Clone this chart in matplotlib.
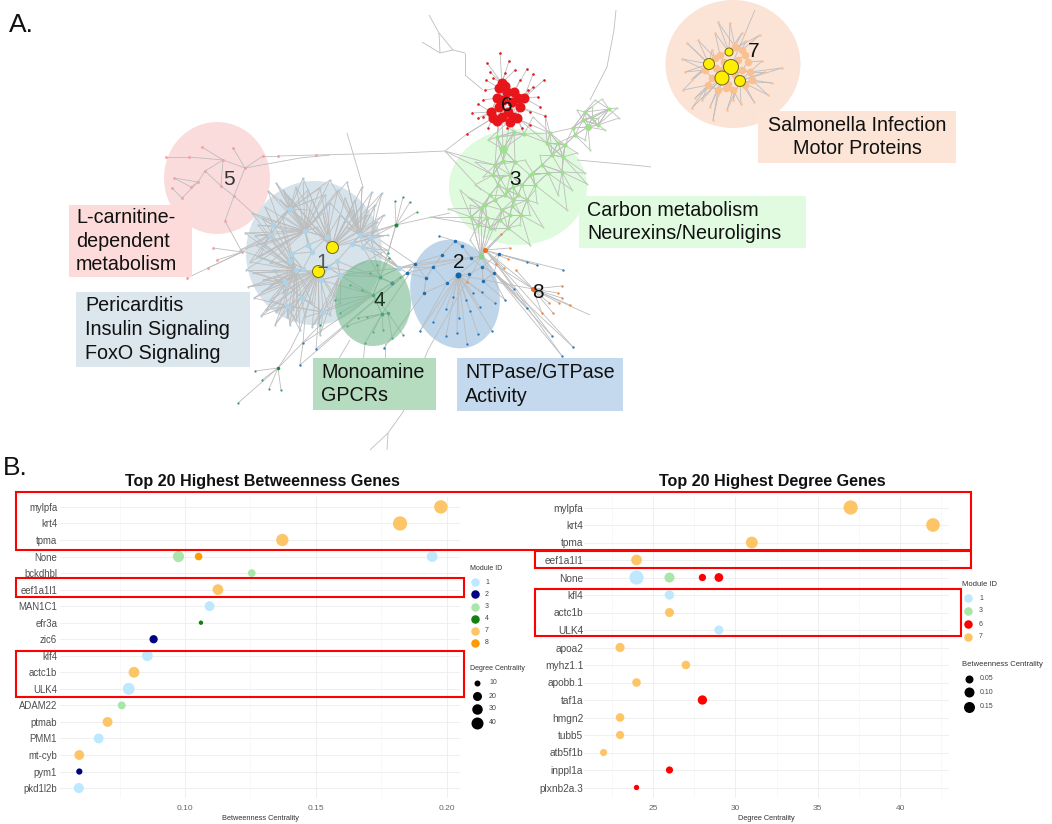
import numpy as np
import matplotlib
matplotlib.use("Agg")
import matplotlib.pyplot as plt
from matplotlib.patches import Ellipse, Rectangle
from matplotlib.collections import LineCollection

plt.rcParams['font.family'] = ['Liberation Sans', 'DejaVu Sans']

# ---- Panel B data ----
BET_GENE_ORDER = ["mylpfa", "krt4", "tpma", "None", "bckdhbl", "eef1a1l1", "MAN1C1", "efr3a", "zic6", "klf4",
                  "actc1b", "ULK4", "ADAM22", "ptmab", "PMM1", "mt-cyb", "pym1", "pkd1l2b"]
BET_GENES = ["mylpfa", "krt4", "tpma", "None", "None", "None", "bckdhbl", "eef1a1l1", "MAN1C1", "efr3a", "zic6",
             "klf4", "actc1b", "ULK4", "ADAM22", "ptmab", "PMM1", "mt-cyb", "pym1", "pkd1l2b"]
BET_VALUES = [.1978, .1822, .1372, .0975, .1052, .1945, .1255, .1126, .1094, .1061, .0880,
              .0856, .0805, .0785, .0758, .0704, .0670, .0596, .0596, .0594]
BET_MODULES = [7, 7, 7, 3, 8, 1, 3, 7, 1, 4, 2, 1, 7, 1, 3, 7, 1, 7, 2, 1]
BET_DEGREES = [37, 42, 31, 26, 12, 24, 12, 24, 20, 4, 14, 24, 24, 29, 13, 20, 20, 20, 8, 21]

DEG_GENE_ORDER = ["mylpfa", "krt4", "tpma", "eef1a1l1", "None", "kfl4", "actc1b", "ULK4", "apoa2", "myhz1.1",
                  "apobb.1", "taf1a", "hmgn2", "tubb5", "atb5f1b", "inppl1a", "plxnb2a.3"]
DEG_GENES = ["mylpfa", "krt4", "tpma", "eef1a1l1", "None", "None", "None", "None", "kfl4", "actc1b", "ULK4", "apoa2",
             "myhz1.1", "apobb.1", "taf1a", "hmgn2", "tubb5", "atb5f1b", "inppl1a", "plxnb2a.3"]
DEG_VALUES = [37, 42, 31, 24, 24, 26, 28, 29, 26, 26, 29, 23, 27, 24, 28, 23, 23, 22, 26, 24]
DEG_MODULES = [7, 7, 7, 7, 1, 3, 6, 6, 1, 7, 1, 7, 7, 7, 6, 7, 7, 7, 6, 6]
DEG_BETWEEN = [.198, .182, .137, .113, .195, .098, .052, .075, .086, .080, .079, .082, .072, .072, .085, .072, .066,
               .050, .050, .028]

MODULE_COLORS = {1: "#bde8fd", 2: "#000080", 3: "#a9e6a9", 4: "#118011", 6: "#ff0000", 7: "#fdc566", 8: "#ff9c00"}
BET_LEGEND_MODULES = [1, 2, 3, 4, 7, 8]
DEG_LEGEND_MODULES = [1, 3, 6, 7]
BET_SIZE_LEGEND = [10, 20, 30, 40]
DEG_SIZE_LEGEND = [0.05, 0.10, 0.15]

# ---- Panel A network data: node positions ----
M6_HUBS = [(502,83),(499,88),(507,92),(497,98),(503,100),(518,98),(512,102),(499,107),(520,107),(508,112),
           (493,118),(502,117),(513,117),(497,121),(517,118),(505,86),(514,92),(524,98),(491,112),(510,122)]
M6_LEAVES = [(500,53),(487,63),(509,61),(515,70),(527,69),(533,74),(544,80),(485,90),(478,104),(472,113),(483,117),
             (467,134),(545,116),(530,125),(522,128),(538,97),(533,87),(493,78),(490,72),(540,107),(483,100),
             (505,73),(520,80),(528,90),(486,80),(530,112),(478,118),(488,128),(507,128)]
M7_HUBS = [(745,55),(748,62),(745,85),(726,88),(733,90),(715,58),(720,55),(712,78),(708,85),(750,72),(735,47),
           (742,50),(705,70),(731,67),(722,78),(740,81),(709,64),(729,52),(738,60),(724,62),(722,70),(735,75),
           (742,70),(716,68),(728,84),(718,90),(752,80)]
M7_LEAVES = [(698,40),(687,43),(682,59),(685,72),(692,79),(683,90),(695,98),(692,108),(702,100),(710,107),(713,120),
             (718,95),(727,110),(733,100),(741,104),(754,102),(768,95),(772,83),(782,68),(765,72),(762,61),(760,35),
             (746,41),(742,33),(730,23),(718,22),(715,33),(712,50)]
M7_YELLOW = [(731,67),(722,78),(740,81),(709,64),(729,52)]
M7_YELLOW_D = [15,14,11,11,8]
M3_HUBS = [(503,149),(503,161),(515,162),(588,127),(583,120),(558,143),(547,143),(550,133),(514,132),(524,134),
           (497,137),(533,173),(548,173),(562,172),(493,175),(498,185),(507,190),(513,187),(522,185),(490,195),
           (513,200),(512,206),(481,208),(502,210),(471,217),(487,218),(521,215),(508,228),(481,256),(609,109),
           (573,128),(585,112),(563,157),(495,200),(505,195),(518,195),(500,178),(527,200),(535,185),(542,165),
           (552,155),(565,145),(575,135),(592,118),(598,125),(478,225),(490,228),(500,220),(510,215),(530,175),
           (510,175),(485,205),(495,165)]
M3_LEAVES = [(602,99),(617,108),(619,118),(605,130),(598,118),(585,140),(590,150),(577,153),(585,173),(587,184),
             (567,210),(572,190),(558,195),(543,227),(530,245),(537,203),(530,215),(460,190),(468,197),(448,209),
             (430,217),(475,162),(483,177),(488,140),(445,151),(533,117),(545,115),(577,110),(592,107),(595,100),
             (500,120),(470,240),(525,160),(540,155),(475,185),(495,230),(470,205),(535,190),(505,175),(520,225)]
M1_HUBS = [(305,231),(308,245),(291,254),(290,261),(296,270),(303,269),(285,282),(302,298),(321,280),(328,267),
           (337,261),(340,275),(352,244),(363,247),(373,249),(360,235),(371,238),(327,237),(312,252),(399,268),
           (380,277),(273,225),(290,209),(270,235),(287,306),(323,312)]
M1_CORE = [(332,247),(318,271),(305,231),(340,275),(360,235),(296,270)]
M1_LEAVES = [(276,183),(268,191),(296,187),(303,178),(320,188),(338,190),(347,182),(362,187),(372,192),(382,193),
             (367,215),(377,222),(388,235),(252,213),(245,233),(256,245),(257,257),(246,270),(248,287),(254,298),
             (270,300),(261,316),(275,325),(287,317),(305,317),(318,323),(340,303),(265,207),(280,200),(312,200),
             (330,203),(352,210),(273,270),(263,280),(283,293),(307,287),(260,257),(323,213),(300,217),(283,230),
             (277,247),(270,263),(317,227),(347,227),(387,250),(333,297),(293,310),(312,303),(253,273),(258,225),
             (283,190),(330,180),(355,200),(240,250),(266,310),(300,330),(320,335),(290,325),(288,196),(308,190),
             (325,195),(345,198),(362,205),(375,205),(262,218),(255,236),(250,262),(262,292),(276,312),(296,320),
             (312,327),(282,215),(340,215),(395,225),(384,215),(264,245),(270,285),(330,315),(346,220),(310,210)]
M2_MAIN = [(458,275)]
M2_HUBS = [(458,275),(455,241),(462,246),(471,258),(499,254),(442,255),(433,267),(415,264),(447,283),(424,293),
           (426,278),(469,274),(483,281),(494,273),(482,267),(407,273)]
M2_FAN = [(446,309),(459,318),(453,297),(466,300),(473,293),(482,292),(495,303),(480,307),(470,311),(446,336),
          (457,333),(467,344),(478,334),(492,331),(433,322),(420,331)]
M2_LEAVES = [(505,300),(527,262),(537,265),(563,270),(527,308),(552,336),(573,347),(562,356),(514,289),(384,348),
             (439,236),(303,343),(316,349),(300,365)]
M4_HUBS = [(373,295),(388,313),(382,314),(392,283),(380,277)]
M4_LEAVES = [(347,326),(365,343),(373,332),(383,330),(392,338),(358,318),(403,335),(367,317),(350,285),(362,290),
             (370,273),(377,265),(389,258),(400,277),(340,313),(335,300)]
M4_STAR_A_HUB = [(396,225)]
M4_STAR_A = [(395,201),(403,197),(410,202),(417,212),(388,253)]
M4_STAR_B_HUB = [(278,368)]
M4_STAR_B = [(255,371),(262,380),(238,403),(269,389),(281,390),(320,325)]
M8_HUBS = [(485,250),(533,289)]
M8_LEAVES = [(562,286),(558,293),(562,298),(549,303),(559,303),(570,305),(553,313),(542,313),(516,270),(508,259),
             (504,268),(496,264),(501,234),(510,248),(467,282)]
M5_NODES = [(223,160),(245,168),(205,171),(221,186),(234,196),(198,182),(189,157),(166,157),(202,147),(233,148),
            (174,178),(172,188),(182,198),(191,187),(263,156),(278,156),(316,155),(225,221),(242,252),(213,248),
            (217,260),(208,268),(187,278)]
# Free-standing chains of edges
CHAINS = [
    [(166,157),(189,157),(223,160),(245,168),(263,156),(278,156),(316,155),(400,153),(445,151)],
    [(245,168),(300,158),(330,155)],
    [(202,147),(223,160),(205,171),(198,182),(174,178)],
    [(172,188),(182,198),(198,182)], [(191,187),(174,178)], [(198,182),(191,187)],
    [(223,160),(221,186),(234,196),(245,168)], [(233,148),(245,168)], [(221,186),(205,171)],
    [(234,196),(225,221),(242,252),(213,248)], [(242,252),(217,260)], [(242,252),(187,278)], [(242,252),(208,268)],
    [(242,252),(268,235)], [(234,196),(255,215)],
    [(429,15),(439,33),(440,53),(453,50),(465,53),(465,75),(483,90)], [(422,42),(440,53)], [(439,33),(453,50)],
    [(616,10),(614,30),(607,67),(590,100)],
    [(577,160),(610,163),(643,166),(651,167)],
    [(396,225),(450,213)], [(396,225),(388,253),(380,277)],
    [(470,275),(428,350),(403,412),(388,433),(370,450)], [(388,433),(387,450)],
    [(347,133),(363,187)], [(731,67),(755,10)],
    [(497,121),(497,137)], [(508,112),(514,132)], [(517,118),(524,134)], [(502,117),(503,149)], [(513,117),(550,133)],
    [(493,118),(467,134),(445,151)], [(510,122),(503,161)], [(505,125),(488,140)], [(520,120),(547,143)],
    [(481,208),(481,256)], [(471,217),(481,256)], [(487,218),(481,256)], [(508,228),(481,256)], [(502,210),(481,256)],
    [(481,256),(415,264)], [(481,256),(407,273)], [(399,268),(433,267)], [(399,268),(442,255)], [(399,268),(471,258)],
    [(485,250),(533,289)], [(481,256),(533,289)], [(533,289),(590,315)], [(458,275),(533,289)],
    [(490,255),(562,356)], [(490,255),(573,347)], [(490,255),(552,336)], [(481,256),(527,308)], [(485,250),(537,265)],
    [(445,151),(481,190)], [(399,268),(363,247)], [(399,268),(373,249)], [(380,277),(340,275)], [(380,277),(328,267)],
    [(399,268),(340,275)], [(392,283),(337,261)], [(373,295),(321,280)], [(373,295),(340,275)], [(373,295),(323,312)],
    [(382,314),(412,270)], [(399,268),(371,238)], [(407,273),(373,249)], [(415,264),(380,240)], [(399,268),(415,264)],
    [(458,275),(481,256)], [(447,283),(420,331)], [(481,256),(505,300)], [(494,273),(514,289)],
    [(365,343),(362,375)], [(385,343),(385,375)], [(350,340),(335,365)], [(318,323),(316,349)], [(305,317),(303,343)],
    [(303,343),(300,365)], [(300,330),(290,350),(278,368)],
]
ELLIPSES = [  # module, centre x, centre y, width, height, angle, colour, opacity
    (7, 733, 64, 135, 128, 0, "#fbe3d6", 1.0),
    (5, 217, 178, 106, 112, 0, "#fbdcdc", 1.0),
    (1, 314, 253, 136, 144, 0, "#d6e3eb", 1.0),
    (3, 518, 187, 138, 116, 0, "#dffbdd", 1.0),
    (2, 455, 294, 88, 110, -15, "#bed5ea", 1.0),
]
M4_ELLIPSE = (373, 303, 76, 86, "#72b88a", 0.58)
NUMBER_LABELS = [("1",322,262,"#555555"),("2",459,263,"#111111"),("3",515,179,"#111111"),("4",379,300,"#1a3a24"),
                 ("5",229,179,"#333333"),("6",507,105,"#111111"),("7",754,51,"#111111"),("8",538,292,"#111111")]
TEXT_BOXES = [
    (69,205,123,72,"#fddbdb","L-carnitine-\ndependent\nmetabolism",76),
    (76,292,174,75,"#dbe6ed","Pericarditis\nInsulin Signaling\nFoxO Signaling",85),
    (313,358,123,52,"#b6dcbf","Monoamine\nGPCRs",321),
    (457,358,166,53,"#c4d9ed","NTPase/GTPase\nActivity",465),
    (579,196,227,52,"#e0fbdf","Carbon metabolism\nNeurexins/Neuroligins",587),
]
SALMONELLA_BOX = (758,111,198,52,"#fce4d6","Salmonella Infection\nMotor Proteins",857)
RED_BOXES = [(16,492,955,58),(535,551,436,17),(16,578,448,19),(16,651,448,46),(535,589,426,47)]

W, H = 1052, 824
fig = plt.figure(figsize=(W/100, H/100), dpi=100, facecolor="white")

ov = fig.add_axes([0, 0, 1, 1])
ov.set_xlim(0, W); ov.set_ylim(H, 0); ov.axis("off")

def knn(points, k):
    p = np.array(points, float)
    segs = []
    for i in range(len(p)):
        d = np.hypot(*(p - p[i]).T)
        d[i] = np.inf
        for j in np.argsort(d)[:k]:
            segs.append([p[i], p[j]])
    return segs

def spokes(leaves, hubs, k):
    l, h = np.array(leaves, float), np.array(hubs, float)
    segs = []
    for q in l:
        d = np.hypot(*(h - q).T)
        for j in np.argsort(d)[:k]:
            segs.append([q, h[j]])
    return segs

def d2s(d):
    return (d * 0.72) ** 2

for m, cx, cy, w, h, a, col, al in ELLIPSES:
    ov.add_patch(Ellipse((cx, cy), w, h, angle=a, fc=col, ec="none", alpha=al, zorder=1))

segs = []
segs += knn(M6_HUBS, 6) + spokes(M6_LEAVES, M6_HUBS, 1)
segs += knn(M7_HUBS, 2) + spokes(M7_LEAVES, M7_HUBS, 1) + spokes(M7_LEAVES, M7_YELLOW, 1)
segs += knn(M3_HUBS, 5) + spokes(M3_LEAVES, M3_HUBS, 2)
segs += knn(M1_HUBS, 3) + spokes(M1_LEAVES, M1_HUBS, 1) + spokes(M1_LEAVES, M1_CORE, 2)
segs += knn(M2_HUBS, 2) + spokes(M2_LEAVES, M2_HUBS, 1) + spokes(M2_FAN, M2_MAIN, 1)
segs += knn(M4_HUBS, 2) + spokes(M4_LEAVES, M4_HUBS, 1)
segs += spokes(M4_STAR_A, M4_STAR_A_HUB, 1) + spokes(M4_STAR_B, M4_STAR_B_HUB, 1)
segs += spokes(M8_LEAVES, M8_HUBS, 1)
for c in CHAINS:
    segs += [[c[i], c[i+1]] for i in range(len(c)-1)]
ov.add_collection(LineCollection(segs, colors="#bdbdbd", linewidths=0.6, zorder=2))

def nodes(pts, col, d, z=3):
    p = np.array(pts, float)
    ov.scatter(p[:, 0], p[:, 1], s=d2s(d), c=col, linewidths=0, zorder=z)

nodes(M1_LEAVES, "#a8cce2", 2.2); nodes(M1_HUBS, "#aed3e8", 5.5)
nodes(M3_LEAVES, "#b4e4a8", 2.2); nodes(M3_HUBS, "#9fe08c", 4.2)
nodes([(503,149)], "#9fe08c", 8); nodes([(588,127)], "#9fe08c", 7); nodes([(481,256)], "#8fcf8f", 6)
nodes(M2_LEAVES + M2_FAN, "#2a7cc0", 2.4); nodes(M2_HUBS, "#1a6fb5", 3.5); nodes(M2_MAIN, "#0f66b0", 6)
nodes(M4_LEAVES, "#2f9e5f", 2.2); nodes(M4_HUBS, "#2a9a58", 3.5)
nodes([(392,283)], "#0f6f95", 4); nodes([(382,314)], "#0f7f95", 3.5)
nodes(M4_STAR_A, "#2f9e5f", 2.2); nodes(M4_STAR_A_HUB, "#188a3e", 4)
nodes(M4_STAR_B, "#2f9e5f", 2.2); nodes(M4_STAR_B_HUB, "#188a3e", 3.5)
nodes(M8_LEAVES, "#f0893f", 2.4); nodes(M8_HUBS, "#f06a1a", 5)
nodes(M5_NODES, "#f4a0a0", 2.8)
nodes(M6_LEAVES, "#e8151b", 2.6); nodes(M6_HUBS, "#e8151b", 10)
nodes(M7_LEAVES, "#f9c29a", 2.6); nodes(M7_HUBS, "#fac090", 7.5)

ov.add_patch(Ellipse(M4_ELLIPSE[:2], M4_ELLIPSE[2], M4_ELLIPSE[3], fc=M4_ELLIPSE[4], ec="none",
                     alpha=M4_ELLIPSE[5], zorder=4))

p = np.array(M7_YELLOW, float)
ov.scatter(p[:, 0], p[:, 1], s=[d2s(d) for d in M7_YELLOW_D], c="#ffee00", edgecolors="#6b6b20", linewidths=0.7, zorder=5)
ov.scatter([332, 318], [247, 271], s=d2s(12), c="#ffee00", edgecolors="#6b6b20", linewidths=0.7, zorder=5)

for txt, x, y, col in NUMBER_LABELS:
    ov.text(x, y, txt, fontsize=15, color=col, ha="center", va="center", zorder=6)

for x, y, w, h, col, txt, tx in TEXT_BOXES:
    ov.add_patch(Rectangle((x, y), w, h, fc=col, ec="none", zorder=6))
    ov.text(tx, y + h/2, txt, fontsize=14.2, color="#111111", ha="left", va="center", linespacing=1.33, zorder=7)
x, y, w, h, col, txt, tx = SALMONELLA_BOX
ov.add_patch(Rectangle((x, y), w, h, fc=col, ec="none", zorder=6))
ov.text(tx, y + h/2, txt, fontsize=14.2, color="#111111", ha="center", va="center", linespacing=1.33, zorder=7)

ov.text(9, 25, "A.", fontsize=19, color="#111111", ha="left", va="center")
ov.text(3, 468, "B.", fontsize=19, color="#111111", ha="left", va="center")

# ---- Panel B axes ----
def make_axes(x0, x1, y0, y1):
    return fig.add_axes([x0/W, 1 - y1/H, (x1-x0)/W, (y1-y0)/H], facecolor="none")

def style(ax, order, xticks, xminor, xlabel, title, title_x, ysize, ypad):
    ax.set_yticks(range(len(order)), order)
    ax.set_xticks(xticks)
    ax.set_xticks(xminor, minor=True)
    ax.grid(True, which="major", color="#ececec", lw=0.6)
    ax.grid(True, which="minor", axis="x", color="#f3f3f3", lw=0.4)
    ax.set_axisbelow(True)
    for s in ax.spines.values():
        s.set_visible(False)
    ax.tick_params(which="both", length=0)
    ax.tick_params(axis="y", labelsize=ysize, labelcolor="#4d4d4d", pad=ypad)
    ax.tick_params(axis="x", labelsize=6, labelcolor="#666666", pad=5)
    ax.set_xlabel(xlabel, fontsize=5.3, color="#333333", labelpad=2.5)
    ov.text(title_x, 481, title, fontsize=11.6, fontweight="bold", color="#111111", ha="center", va="center")

ax1 = make_axes(60, 460, 497, 798)
yb = [BET_GENE_ORDER.index(g) for g in BET_GENES]
ax1.scatter(BET_VALUES, yb, s=[d2s(2.2*np.sqrt(v)) for v in BET_DEGREES],
            c=[MODULE_COLORS[m] for m in BET_MODULES], linewidths=0, zorder=3)
style(ax1, BET_GENE_ORDER, [0.10, 0.15, 0.20], [0.075, 0.125, 0.175],
      "Betweenness Centrality", "Top 20 Highest Betweenness Genes", 262.5, 6.9, 2)
ax1.xaxis.set_major_formatter(lambda v, _: f"{v:.2f}")
ax1.set_xlim(0.10 + (60-185)/2616, 0.10 + (460-185)/2616)
ax1.set_ylim(len(BET_GENE_ORDER) - 0.4, -0.6)

ax2 = make_axes(584, 949, 497, 798)
yd = [DEG_GENE_ORDER.index(g) for g in DEG_GENES]
ax2.scatter(DEG_VALUES, yd, s=[d2s(32*np.sqrt(v)) for v in DEG_BETWEEN],
            c=[MODULE_COLORS[m] for m in DEG_MODULES], linewidths=0, zorder=3)
style(ax2, DEG_GENE_ORDER, [25, 30, 35, 40], [22.5, 27.5, 32.5, 37.5, 42.5],
      "Degree Centrality", "Top 20 Highest Degree Genes", 772, 7.3, 0.5)
ax2.set_xlim(25 + (584-653)/16.47, 25 + (949-653)/16.47)
ax2.set_ylim(len(DEG_GENE_ORDER) - 0.4, -0.6)

# ---- Legends and red frames, on top of everything ----
top = fig.add_axes([0, 0, 1, 1], facecolor="none")
top.set_xlim(0, W); top.set_ylim(H, 0); top.axis("off")

def legend_modules(x_title, y_title, x_c, ys, x_l, modules, tsize):
    top.text(x_title, y_title, "Module ID", fontsize=tsize, color="#333333", ha="left", va="center")
    for y, m in zip(ys, modules):
        top.scatter([x_c], [y], s=d2s(8.5), c=MODULE_COLORS[m], linewidths=0)
        top.text(x_l, y, str(m), fontsize=5, color="#444444", ha="left", va="center")

def legend_sizes(x_title, y_title, title, x_c, ys, x_l, values, diam, fmt, tsize):
    top.text(x_title, y_title, title, fontsize=tsize, color="#333333", ha="left", va="center")
    for y, v, d in zip(ys, values, diam):
        top.scatter([x_c], [y], s=d2s(d), c="black", linewidths=0)
        top.text(x_l, y, fmt.format(v), fontsize=5, color="#444444", ha="left", va="center")

legend_modules(470, 569, 475, [582, 594, 607, 619, 631, 643], 485, BET_LEGEND_MODULES, 5)
legend_sizes(470, 669, "Degree Centrality", 477, [683, 696, 709, 723], 489, BET_SIZE_LEGEND, [6, 9, 10.5, 12], "{:d}", 5)
legend_modules(962, 584, 968, [598, 611, 624, 637], 979, DEG_LEGEND_MODULES, 5.5)
legend_sizes(962, 664, "Betweenness Centrality", 969, [679, 692, 707], 980, DEG_SIZE_LEGEND, [8, 10, 11], "{:.2f}", 5.5)

for x, y, w, h in RED_BOXES:
    top.add_patch(Rectangle((x, y), w, h, fc="none", ec="#ff0000", lw=1.5))

fig.savefig("out.png", dpi=100)
